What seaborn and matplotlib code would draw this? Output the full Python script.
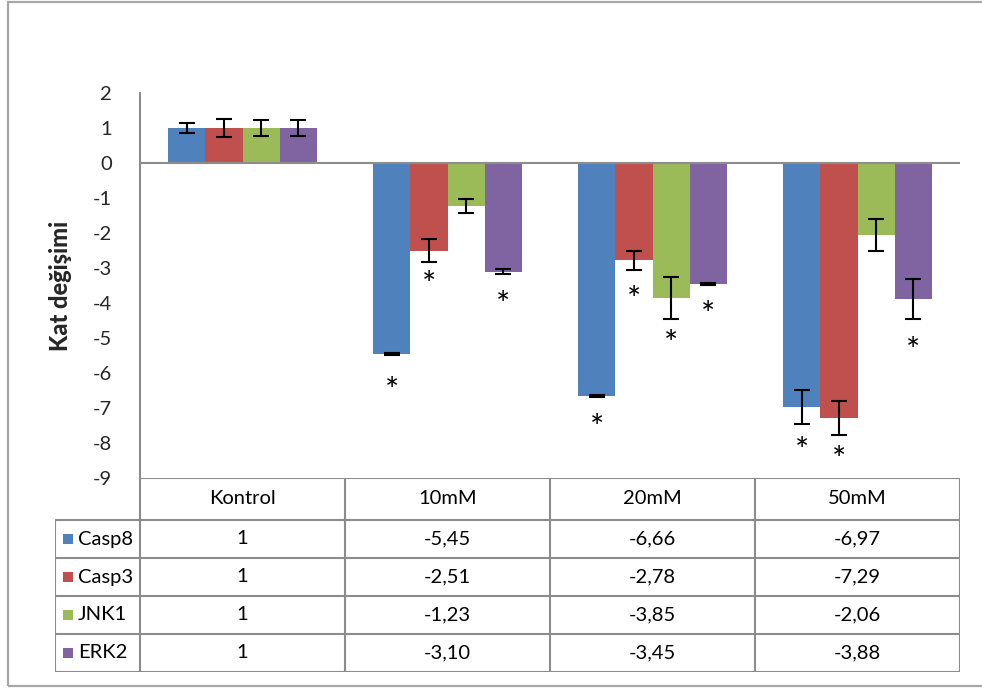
import numpy as np
import pandas as pd
import seaborn as sns
import matplotlib
matplotlib.use("Agg")
import matplotlib.pyplot as plt
from matplotlib.patches import Rectangle
from matplotlib.transforms import offset_copy

# ---- data -------------------------------------------------------------
dozlar = ["Kontrol", "10mM", "20mM", "50mM"]
genler = ["Casp8", "Casp3", "JNK1", "ERK2"]

casp8 = [1, -5.45, -6.66, -6.97]
casp3 = [1, -2.51, -2.78, -7.29]
jnk1 = [1, -1.23, -3.85, -2.06]
erk2 = [1, -3.10, -3.45, -3.88]

casp8_hata = [0.13, 0.03, 0.03, 0.48]
casp3_hata = [0.27, 0.33, 0.27, 0.49]
jnk1_hata = [0.24, 0.20, 0.60, 0.45]
erk2_hata = [0.24, 0.06, 0.03, 0.57]

# significance marks: position of the star on the value axis (None = not significant)
casp8_yildiz = [None, -6.27, -7.31, -7.97]
casp3_yildiz = [None, -3.24, -3.67, -8.25]
jnk1_yildiz = [None, None, -4.93, None]
erk2_yildiz = [None, -3.81, -4.10, -5.13]

y_ticks = list(range(-9, 3))

renkler = ["#4F81BD", "#C0504D", "#9BBB59", "#8064A2"]

degerler = [casp8, casp3, jnk1, erk2]
hatalar = [casp8_hata, casp3_hata, jnk1_hata, erk2_hata]
yildizlar = [casp8_yildiz, casp3_yildiz, jnk1_yildiz, erk2_yildiz]

df = pd.DataFrame(
    [(d, g, v[i]) for g, v in zip(genler, degerler) for i, d in enumerate(dozlar)],
    columns=["doz", "gen", "deger"],
)

# ---- style ------------------------------------------------------------
sns.set_style("white")
plt.rcParams["font.family"] = ["Lato", "DejaVu Sans"]
GRI = "#8C8C8C"
YAZI = 14.5
YILDIZ = 24

W, H = 982, 688
fig = plt.figure(figsize=(W / 100, H / 100), dpi=100)

# outer chart border
fig.add_artist(Rectangle((8 / W, 2 / H), 1.2, 684 / H, transform=fig.transFigure,
                         fill=False, edgecolor="#A6A6A6", linewidth=1.6))

ax = fig.add_axes([140 / W, 1 - 478 / H, 820 / W, 385 / H])
sns.barplot(data=df, x="doz", y="deger", hue="gen", hue_order=genler,
            order=dozlar, palette=renkler, saturation=1, width=0.727,
            errorbar=None, legend=False, linewidth=0, ax=ax)

# the asterisk glyph sits above the baseline; shift it so its centre lands on the value
yildiz_tr = offset_copy(ax.transData, fig=fig, y=-0.56 * YILDIZ, units="points")

# error bars and stars on the bar centres
for cont, hata, yild in zip(ax.containers, hatalar, yildizlar):
    xs = [p.get_x() + p.get_width() / 2 for p in cont]
    ys = [p.get_y() + p.get_height() for p in cont]
    ax.errorbar(xs, ys, yerr=hata, fmt="none", ecolor="black",
                elinewidth=1.5, capsize=5.5, capthick=1.5, zorder=4)
    for x, s in zip(xs, yild):
        if s is not None:
            ax.text(x, s, "*", ha="center", va="baseline", fontsize=YILDIZ,
                    color="black", zorder=5, transform=yildiz_tr)

ax.set_xlim(-0.5, 3.5)
ax.set_ylim(-9, 2)
ax.set_yticks(y_ticks)
ax.set_yticklabels([str(t) for t in y_ticks])
ax.tick_params(axis="y", length=0, pad=20, labelsize=YAZI)
ax.set_xticks([])
ax.set_xlabel("")
ax.set_ylabel("Kat değişimi", fontsize=17, fontweight="black", va="center")
ax.yaxis.set_label_coords(-0.097, 0.5)
ax.axhline(0, color=GRI, linewidth=1.5, zorder=3)
for s in ["top", "right", "bottom"]:
    ax.spines[s].set_visible(False)
ax.spines["left"].set_color(GRI)
ax.spines["left"].set_linewidth(1.5)

# ---- data table below the plot ----------------------------------------
tab = fig.add_axes([55 / W, 1 - 672 / H, 905 / W, 194 / H])
sol = -0.5 - 85 / 205
tab.set_xlim(sol, 3.5)
tab.set_ylim(194, 0)
tab.axis("off")

kw = dict(color=GRI, linewidth=1.5, solid_capstyle="projecting")
tab.plot([-0.5, 3.5], [0, 0], **kw)
satir = [42 + 38 * k for k in range(5)]
for yy in satir:
    tab.plot([sol, 3.5], [yy, yy], **kw)
tab.plot([sol, sol], [42, 194], **kw)
for i in range(len(dozlar) + 1):
    tab.plot([i - 0.5, i - 0.5], [0, 194], **kw)

for i, d in enumerate(dozlar):
    tab.text(i, 21, d, ha="center", va="center", fontsize=YAZI, color="black")

for r, (g, v, c) in enumerate(zip(genler, degerler, renkler)):
    yc = 42 + 38 * r + 19
    tab.add_patch(Rectangle((sol + 8 / 205, yc - 5), 10 / 205, 10,
                            facecolor=c, edgecolor="none"))
    tab.text(sol + 23 / 205, yc, g, ha="left", va="center",
             fontsize=YAZI, color="black")
    for i, val in enumerate(v):
        s = "1" if i == 0 else f"{val:.2f}".replace(".", ",")
        tab.text(i, yc, s, ha="center", va="center", fontsize=YAZI,
                 color="black")

fig.savefig("out.png", dpi=100)
